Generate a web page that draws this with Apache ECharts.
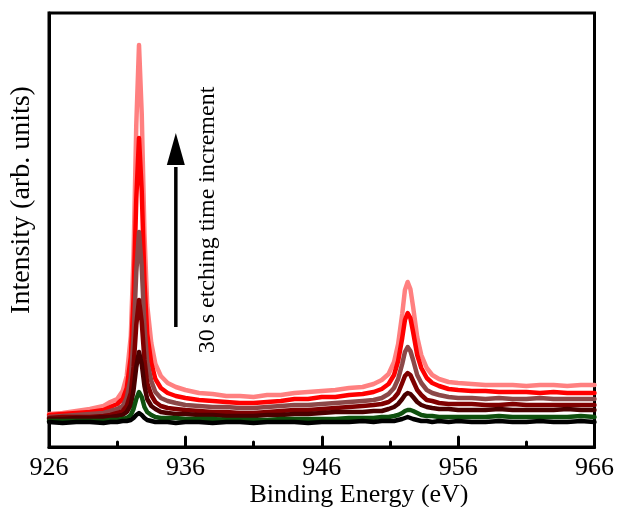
<!DOCTYPE html>
<html>
<head>
<meta charset="utf-8">
<script src="https://cdn.jsdelivr.net/npm/echarts@6/dist/echarts.min.js"></script>
<style>
  html, body { margin: 0; padding: 0; background: #fff; }
  #chart { width: 617px; height: 507px; }
</style>
</head>
<body>
<div id="chart"></div>
<script>
// Cu 2p XPS spectra recorded after successive 30 s etching steps
const energies = [926, 927, 928, 929, 930, 930.5, 931, 931.4, 931.7, 932.0, 932.2, 932.4, 932.6, 932.8,
  933.0, 933.2, 933.5, 933.8, 934.2, 934.7, 935.3, 936, 937, 938, 939, 940, 941, 942, 943, 944, 945,
  946, 947, 948, 949, 949.8, 950.4, 950.9, 951.3, 951.6, 951.9, 952.1, 952.3, 952.5, 952.7, 953.0,
  953.3, 953.7, 954.1, 954.6, 955.3, 956, 957, 958, 959, 960, 961, 962, 963, 964, 965, 966];

const etch0s = [25, 24, 25, 25, 24, 25, 25, 26, 26, 27, 29, 32, 34, 32, 29, 27, 26, 25, 25, 25, 24,
  25, 25, 24, 25, 25, 24, 25, 25, 25, 24, 25, 25, 25, 26, 25, 26, 26, 26, 27, 28, 29, 30, 29, 28, 27,
  26, 26, 25, 26, 25, 26, 25, 25, 26, 25, 25, 26, 25, 25, 26, 25];
const etch30s = [26, 26, 26, 26, 26, 27, 27, 28, 29, 32, 38, 48, 55, 50, 40, 35, 32, 30, 29, 29, 29,
  28, 28, 28, 27, 27, 27, 27, 28, 28, 28, 28, 28, 29, 29, 29, 30, 30, 31, 32, 34, 36, 37, 37, 36, 34,
  32, 31, 31, 30, 30, 30, 30, 30, 31, 30, 30, 30, 30, 30, 31, 30];
const etch60s = [28, 28, 29, 29, 30, 30, 31, 32, 35, 42, 57, 80, 95, 83, 61, 48, 41, 38, 35, 34, 33,
  33, 32, 32, 31, 31, 31, 32, 32, 33, 33, 34, 35, 35, 35, 36, 36, 38, 40, 43, 48, 52, 54, 53, 50, 45,
  42, 40, 39, 38, 38, 37, 37, 37, 38, 37, 37, 37, 37, 38, 37, 37];
const etch90s = [29, 30, 30, 30, 31, 32, 34, 36, 41, 54, 80, 122, 147, 125, 87, 64, 52, 45, 41, 39, 38,
  37, 36, 35, 35, 34, 34, 35, 36, 37, 37, 38, 39, 40, 41, 42, 43, 45, 49, 54, 64, 71, 74, 72, 66, 57,
  52, 47, 46, 44, 43, 43, 43, 42, 42, 43, 42, 42, 42, 42, 42, 42];
const etch120s = [30, 31, 32, 33, 34, 36, 38, 41, 49, 69, 109, 175, 215, 180, 120, 85, 66, 55, 49, 46,
  44, 42, 41, 40, 40, 39, 39, 40, 41, 42, 42, 43, 44, 45, 46, 47, 49, 53, 59, 68, 83, 95, 100, 96, 87,
  72, 64, 57, 54, 52, 50, 49, 49, 48, 49, 48, 48, 49, 48, 48, 48, 48];
const etch150s = [32, 33, 34, 35, 37, 40, 43, 48, 59, 90, 150, 248, 309, 256, 166, 113, 84, 68, 59, 54,
  51, 49, 47, 46, 45, 44, 44, 45, 46, 48, 48, 50, 50, 52, 53, 55, 58, 63, 72, 86, 109, 127, 134, 129,
  115, 92, 79, 69, 64, 61, 58, 57, 56, 56, 55, 55, 55, 54, 55, 54, 54, 54];
const etch180s = [33, 34, 36, 38, 41, 45, 48, 56, 71, 111, 191, 322, 402, 333, 213, 142, 104, 83, 71,
  64, 60, 57, 54, 53, 51, 51, 50, 52, 52, 54, 55, 56, 57, 59, 60, 63, 67, 73, 85, 103, 133, 157, 165,
  158, 140, 110, 92, 79, 72, 68, 65, 64, 63, 62, 62, 62, 61, 62, 62, 61, 62, 62];

const majorTicks = [926, 936, 946, 956, 966];
const minorTicks = [931, 941, 951, 961];

// drawn from the longest etch (back) to the as-received spectrum (front)
const spectra = [
  { name: '180 s', values: etch180s, color: '#ff8080' },
  { name: '150 s', values: etch150s, color: '#ff0000' },
  { name: '120 s', values: etch120s, color: '#8c4848' },
  { name: '90 s', values: etch90s, color: '#800000' },
  { name: '60 s', values: etch60s, color: '#4a0000' },
  { name: '30 s', values: etch30s, color: '#0e500e' },
  { name: '0 s', values: etch0s, color: '#000000' }
];

const serif = '"Liberation Serif", "Times New Roman", "DejaVu Serif", serif';
const chart = echarts.init(document.getElementById('chart'), null, { renderer: 'canvas' });

const xBase = { type: 'value', min: 926, max: 966, position: 'bottom', splitLine: { show: false } };

chart.setOption({
  animation: false,
  backgroundColor: '#fff',
  grid: { left: 49, right: 21, top: 13, bottom: 60, show: true, borderColor: '#000', borderWidth: 3 },
  xAxis: [
    Object.assign({}, xBase, {
      axisLine: { show: true, lineStyle: { color: '#000', width: 3 } },
      axisTick: { show: true, inside: true, length: 10, customValues: majorTicks,
        lineStyle: { color: '#000', width: 3, cap: 'round' } },
      axisLabel: { show: true, customValues: majorTicks, margin: 8, color: '#000',
        fontFamily: serif, fontSize: 26 }
    }),
    Object.assign({}, xBase, {
      axisLine: { show: false },
      axisTick: { show: true, inside: true, length: 5, customValues: minorTicks,
        lineStyle: { color: '#000', width: 3, cap: 'round' } },
      axisLabel: { show: false }
    })
  ],
  yAxis: {
    type: 'value', min: 0, max: 434,
    axisLine: { show: true, lineStyle: { color: '#000', width: 3 } },
    axisTick: { show: false }, axisLabel: { show: false }, splitLine: { show: false }
  },
  series: spectra.map(s => ({
    name: s.name,
    type: 'line',
    xAxisIndex: 0,
    showSymbol: false,
    symbol: 'none',
    clip: true,
    data: energies.map((e, i) => [e, s.values[i]]),
    lineStyle: { color: s.color, width: 4.5, join: 'round', cap: 'round' },
    itemStyle: { color: s.color }
  }))
});

// annotation arrow placed in data space, plus axis titles
const tail = chart.convertToPixel({ xAxisIndex: 0, yAxisIndex: 0 }, [935.3, 120]);
const tip = chart.convertToPixel({ xAxisIndex: 0, yAxisIndex: 0 }, [935.3, 314]);
const headBase = tip[1] + 32;

chart.setOption({
  graphic: [
    { type: 'line', shape: { x1: tail[0], y1: tail[1], x2: tip[0], y2: headBase + 2 },
      style: { stroke: '#000', lineWidth: 3.5 } },
    { type: 'polygon', shape: { points: [[tip[0], tip[1]], [tip[0] - 9, headBase], [tip[0] + 9, headBase]] },
      style: { fill: '#000' } },
    { type: 'text', x: 208, y: 220, rotation: Math.PI / 2,
      style: { text: '30 s etching time increment', font: '24px ' + serif, fill: '#000',
        align: 'center', verticalAlign: 'middle' } },
    { type: 'text', x: 22, y: 200, rotation: Math.PI / 2,
      style: { text: 'Intensity (arb. units)', font: '28px ' + serif, fill: '#000',
        align: 'center', verticalAlign: 'middle' } },
    { type: 'text', x: 359, y: 495,
      style: { text: 'Binding Energy (eV)', font: '26px ' + serif, fill: '#000',
        align: 'center', verticalAlign: 'middle' } }
  ]
});
</script>
</body>
</html>
